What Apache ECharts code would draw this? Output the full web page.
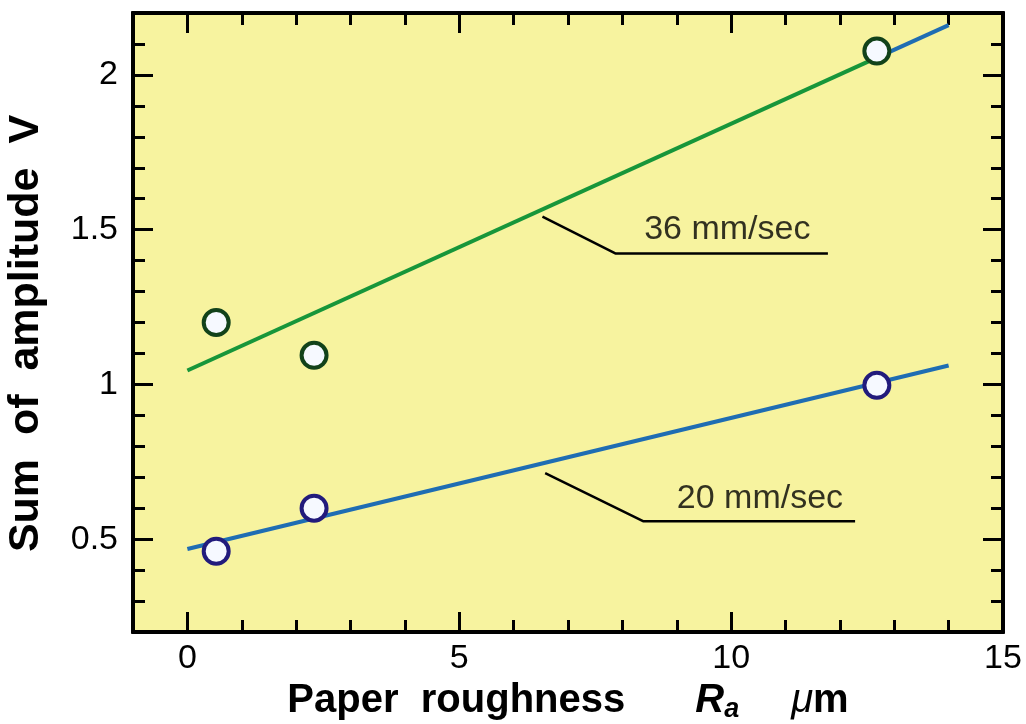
<!DOCTYPE html>
<html>
<head>
<meta charset="utf-8">
<script src="https://cdn.jsdelivr.net/npm/echarts@6/dist/echarts.min.js"></script>
<style>
  html, body { margin: 0; padding: 0; background: #ffffff; }
  #chart { width: 1026px; height: 724px; }
</style>
</head>
<body>
<div id="chart"></div>
<script>
// Axis ticks and labels
const xMajor = [0, 5, 10, 15];
const xMinor = [-1, 0, 1, 2, 3, 4, 5, 6, 7, 8, 9, 10, 11, 12, 13, 14, 15];
const yMajor = [0.5, 1, 1.5, 2];
const yMinor = [0.2, 0.3, 0.4, 0.5, 0.6, 0.7, 0.8, 0.9, 1.0, 1.1, 1.2, 1.3, 1.4, 1.5, 1.6, 1.7, 1.8, 1.9, 2.0, 2.1, 2.2];

// Measured points: [Ra (µm), sum of amplitude (V)]
const pts36 = [[0.53, 1.200], [2.33, 1.094], [12.68, 2.077]];
const pts20 = [[0.53, 0.461], [2.33, 0.600], [12.68, 0.997]];

// Fitted lines
const fit36 = [[0, 1.045], [12.68, 2.056]];
const fit36Tail = [[12.68, 2.056], [14, 2.161]];
const fit20 = [[0, 0.468], [14, 1.061]];

// Leader lines and their labels
const lead36 = [[6.53, 1.542], [7.87, 1.423], [11.78, 1.423]];
const lead20 = [[6.58, 0.713], [8.38, 0.558], [12.28, 0.558]];
const notes = [
  { name: '36 mm/sec', value: [9.93, 1.500] },
  { name: '20 mm/sec', value: [10.53, 0.632] }
];

const FONT = '"Liberation Sans", Arial, Helvetica, sans-serif';
const GREEN = '#17963a';
const BLUE = '#1f6db3';
const BG = '#f7f39f';

const gridPos = { left: 133, right: 23, top: 13, bottom: 92, outerBoundsMode: 'none', containLabel: false };

function xAx(gridIndex, position, ticks, len, extra) {
  return Object.assign({
    type: 'value', gridIndex, position, min: -1, max: 15,
    axisLine: { show: true, onZero: false, lineStyle: { color: '#000', width: 4 } },
    axisTick: { show: true, inside: true, length: len, customValues: ticks, lineStyle: { color: '#000', width: 3 } },
    axisLabel: { show: false },
    splitLine: { show: false }
  }, extra || {});
}
function yAx(gridIndex, position, ticks, len, extra) {
  return Object.assign({
    type: 'value', gridIndex, position, min: 0.2, max: 2.2,
    axisLine: { show: true, onZero: false, lineStyle: { color: '#000', width: 4 } },
    axisTick: { show: true, inside: true, length: len, customValues: ticks, lineStyle: { color: '#000', width: 3 } },
    axisLabel: { show: false },
    splitLine: { show: false }
  }, extra || {});
}

const chart = echarts.init(document.getElementById('chart'), null, { renderer: 'canvas' });

chart.setOption({
  backgroundColor: '#ffffff',
  animation: false,
  grid: [
    Object.assign({ show: true, backgroundColor: BG, borderWidth: 0 }, gridPos),
    Object.assign({ show: false }, gridPos)
  ],
  xAxis: [
    xAx(0, 'bottom', xMajor, 20, {
      axisLabel: {
        show: true, customValues: xMajor, margin: 10,
        color: '#000', fontSize: 34, fontFamily: FONT
      },
      name: '{b|Paper  roughness}{g1|}{i|R}{s|a}{g2|}{mu|\u03bc}{b|m}',
      nameLocation: 'middle',
      nameGap: 39,
      nameTextStyle: {
        rich: {
          b: { fontSize: 40, fontWeight: 'bold', fontFamily: FONT, color: '#000' },
          g1: { width: 70, fontSize: 40 },
          g2: { width: 52, fontSize: 40 },
          i: { fontSize: 40, fontWeight: 'bold', fontStyle: 'italic', fontFamily: FONT, color: '#000' },
          s: { fontSize: 27, fontWeight: 'bold', fontStyle: 'italic', fontFamily: FONT, color: '#000', padding: [17, 0, 0, 0] },
          mu: { fontSize: 40, fontStyle: 'italic', fontFamily: FONT, color: '#000' }
        }
      }
    }),
    xAx(0, 'top', xMajor, 20),
    xAx(1, 'bottom', xMinor, 12),
    xAx(1, 'top', xMinor, 12)
  ],
  yAxis: [
    yAx(0, 'left', yMajor, 20, {
      axisLabel: {
        show: true, customValues: yMajor, margin: 15,
        color: '#000', fontSize: 34, fontFamily: FONT
      },
      name: 'Sum  of  amplitude  V',
      nameLocation: 'middle',
      nameGap: 85,
      nameTextStyle: { fontSize: 43, fontWeight: 'bold', fontFamily: FONT, color: '#000', padding: [0, 22, 0, 0] }
    }),
    yAx(0, 'right', yMajor, 20),
    yAx(1, 'left', yMinor, 12),
    yAx(1, 'right', yMinor, 12)
  ],
  series: [
    {
      type: 'line', data: fit36, xAxisIndex: 0, yAxisIndex: 0,
      showSymbol: false, silent: true, z: 3,
      lineStyle: { color: GREEN, width: 4 }
    },
    {
      type: 'line', data: fit36Tail, xAxisIndex: 0, yAxisIndex: 0,
      showSymbol: false, silent: true, z: 3,
      lineStyle: { color: BLUE, width: 4 }
    },
    {
      type: 'line', data: fit20, xAxisIndex: 0, yAxisIndex: 0,
      showSymbol: false, silent: true, z: 3,
      lineStyle: { color: BLUE, width: 4 }
    },
    {
      type: 'line', data: lead36, xAxisIndex: 0, yAxisIndex: 0,
      showSymbol: false, silent: true, z: 3,
      lineStyle: { color: '#000', width: 2.5 }
    },
    {
      type: 'line', data: lead20, xAxisIndex: 0, yAxisIndex: 0,
      showSymbol: false, silent: true, z: 3,
      lineStyle: { color: '#000', width: 2.5 }
    },
    {
      type: 'scatter', data: pts36, xAxisIndex: 0, yAxisIndex: 0,
      symbol: 'circle', symbolSize: 25, z: 5,
      itemStyle: { color: '#f6f9ff', borderColor: '#12421a', borderWidth: 4, opacity: 1 }
    },
    {
      type: 'scatter', data: pts20, xAxisIndex: 0, yAxisIndex: 0,
      symbol: 'circle', symbolSize: 25, z: 5,
      itemStyle: { color: '#f6f9ff', borderColor: '#221b7c', borderWidth: 4, opacity: 1 }
    },
    {
      type: 'scatter', data: notes, xAxisIndex: 0, yAxisIndex: 0,
      symbolSize: 0, silent: true, z: 6,
      label: {
        show: true, position: 'inside', formatter: '{b}',
        color: '#000', fontSize: 34, fontFamily: FONT
      }
    }
  ]
});
</script>
</body>
</html>
